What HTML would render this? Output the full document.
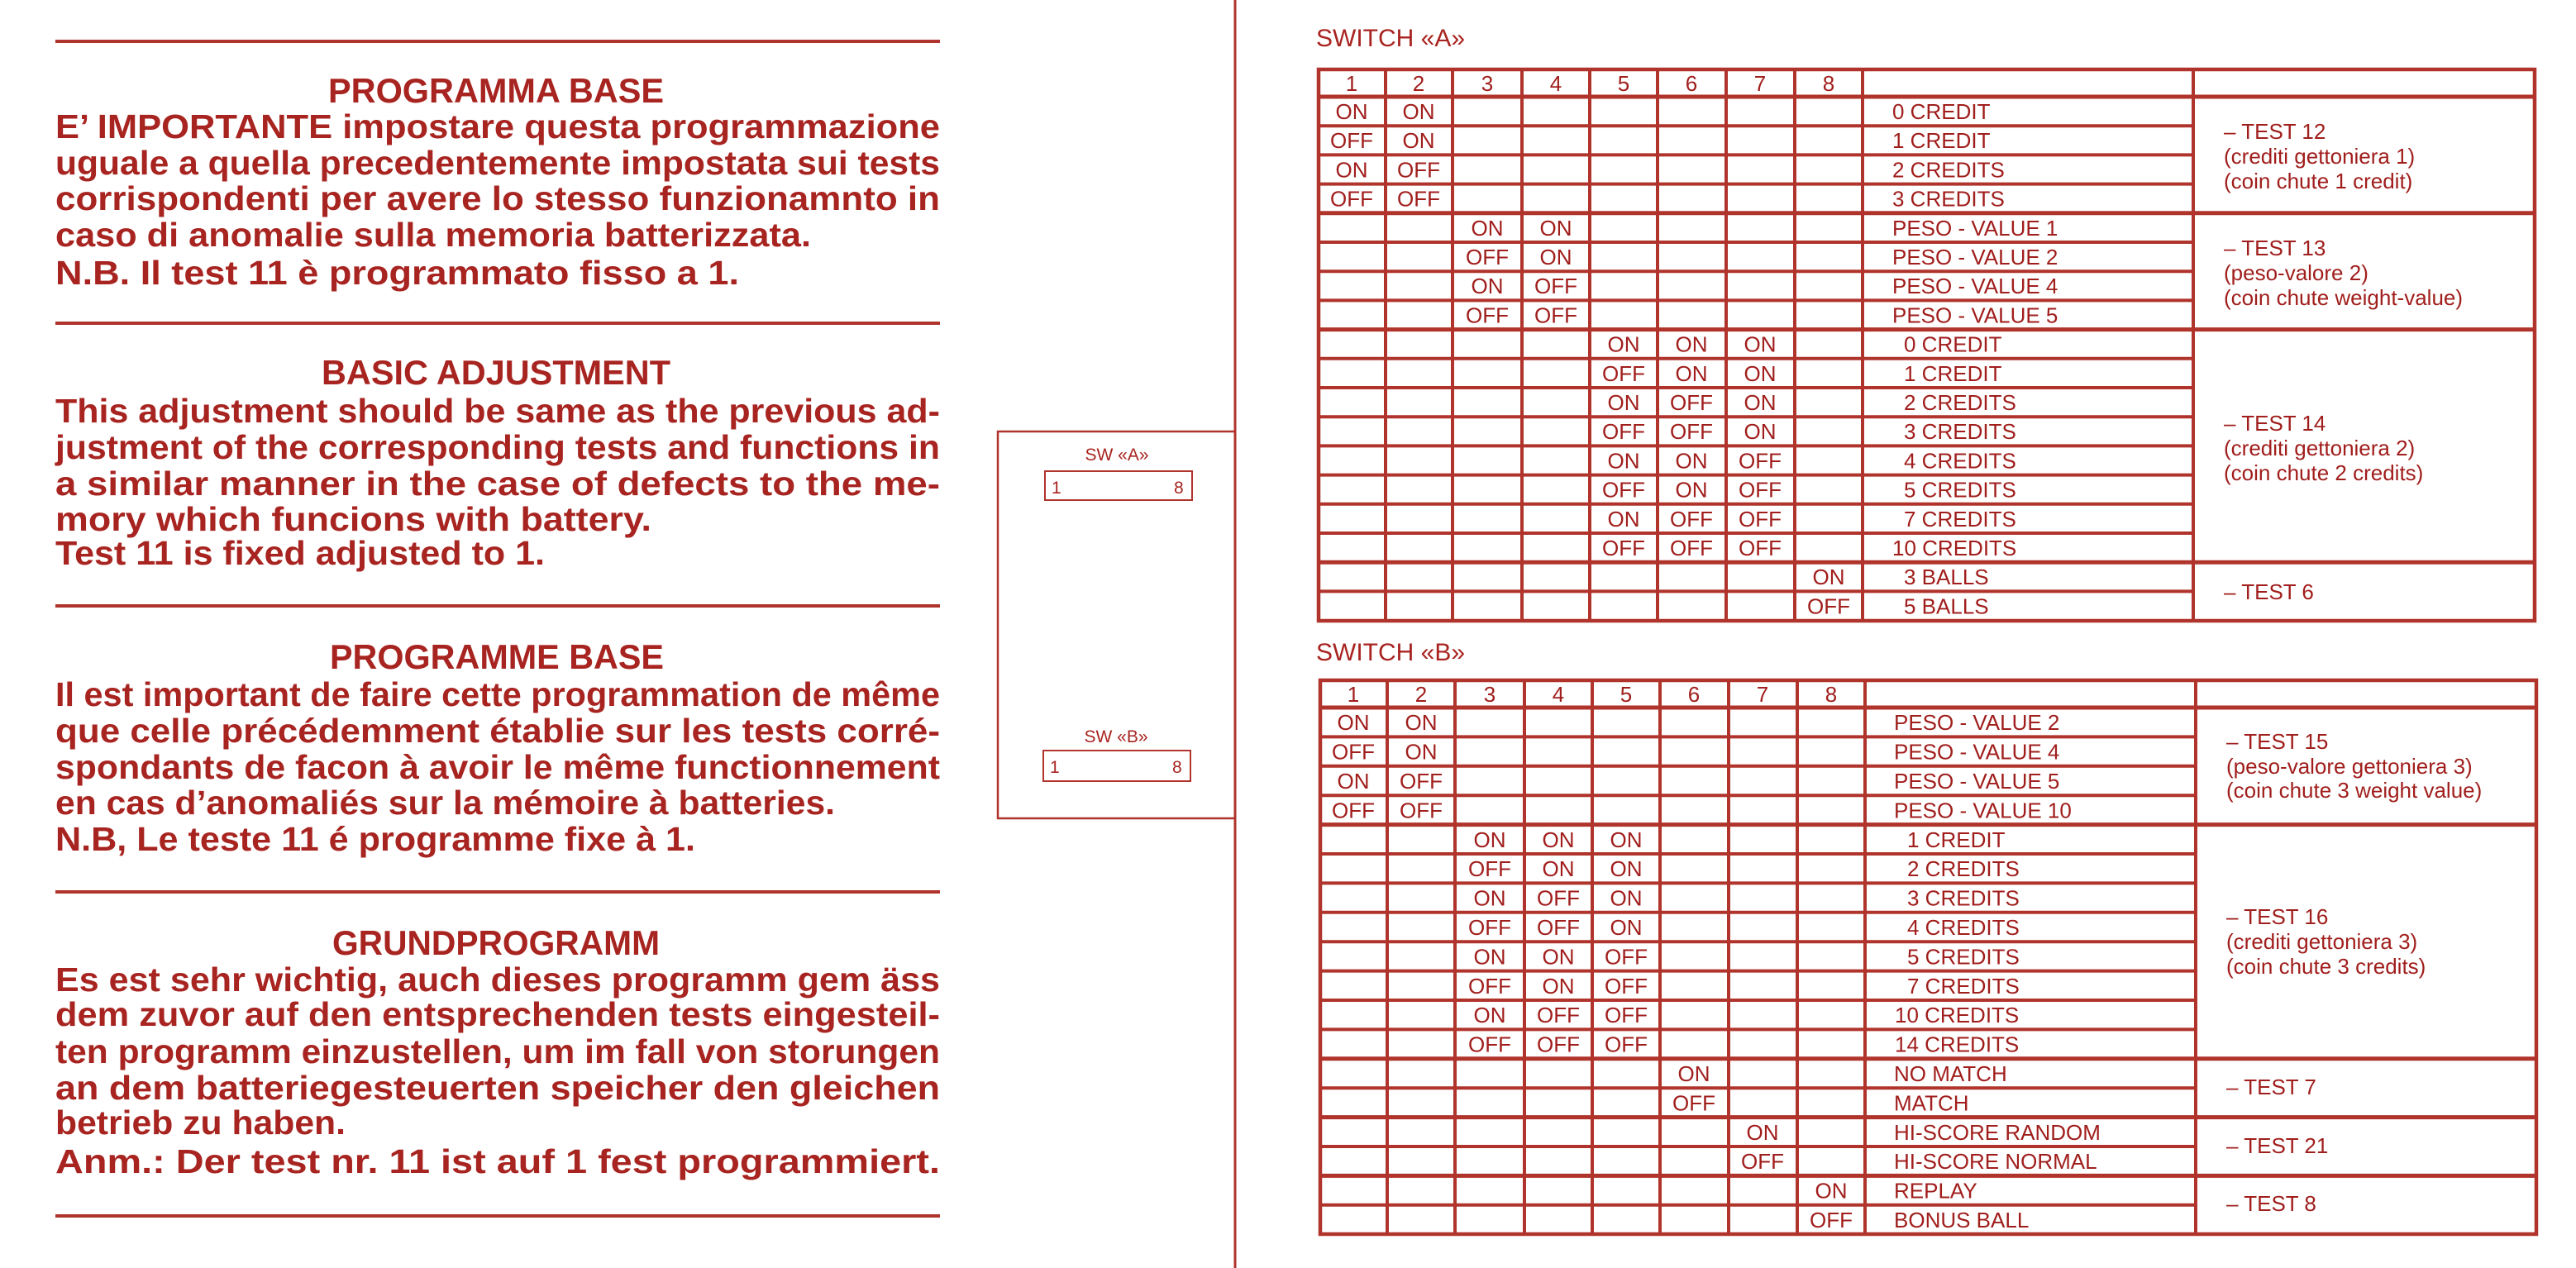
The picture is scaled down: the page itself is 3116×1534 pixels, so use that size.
<!DOCTYPE html>
<html><head><meta charset="utf-8"><style>
html,body{margin:0;padding:0;background:#fff;}
svg{display:block;}
</style></head><body>
<svg xmlns="http://www.w3.org/2000/svg" width="3116" height="1534" viewBox="0 0 3116 1534">
<rect width="3116" height="1534" fill="#fff"/>
<g stroke="#b0342c" stroke-width="4">
<line x1="67" y1="50" x2="1137" y2="50"/>
<line x1="67" y1="391" x2="1137" y2="391"/>
<line x1="67" y1="733" x2="1137" y2="733"/>
<line x1="67" y1="1079" x2="1137" y2="1079"/>
<line x1="67" y1="1471" x2="1137" y2="1471"/>
</g>
<g fill="#a82420" font-family="Liberation Sans, sans-serif" font-weight="bold" font-size="41">
<text x="397" y="124" font-size="42" textLength="406" lengthAdjust="spacingAndGlyphs">PROGRAMMA  BASE</text>
<text x="67" y="167" textLength="1070" lengthAdjust="spacingAndGlyphs">E’ IMPORTANTE impostare questa programmazione</text>
<text x="67" y="211" textLength="1070" lengthAdjust="spacingAndGlyphs">uguale a quella precedentemente impostata sui tests</text>
<text x="67" y="254" textLength="1070" lengthAdjust="spacingAndGlyphs">corrispondenti per avere lo stesso funzionamnto in</text>
<text x="67" y="298" textLength="914" lengthAdjust="spacingAndGlyphs">caso di anomalie sulla memoria batterizzata.</text>
<text x="67" y="344" textLength="827" lengthAdjust="spacingAndGlyphs">N.B. Il test 11 è programmato fisso a 1.</text>

<text x="389" y="465" font-size="42" textLength="422" lengthAdjust="spacingAndGlyphs">BASIC  ADJUSTMENT</text>
<text x="67" y="511" textLength="1070" lengthAdjust="spacingAndGlyphs">This adjustment should be same as the previous ad-</text>
<text x="67" y="555" textLength="1070" lengthAdjust="spacingAndGlyphs">justment of the corresponding tests and functions in</text>
<text x="67" y="599" textLength="1070" lengthAdjust="spacingAndGlyphs">a similar manner in the case of defects to the me-</text>
<text x="67" y="642" textLength="721" lengthAdjust="spacingAndGlyphs">mory which funcions with battery.</text>
<text x="67" y="683" textLength="592" lengthAdjust="spacingAndGlyphs">Test 11 is fixed adjusted to 1.</text>

<text x="399" y="809" font-size="42" textLength="404" lengthAdjust="spacingAndGlyphs">PROGRAMME  BASE</text>
<text x="67" y="854" textLength="1070" lengthAdjust="spacingAndGlyphs">Il est important de faire cette programmation de même</text>
<text x="67" y="898" textLength="1070" lengthAdjust="spacingAndGlyphs">que celle précédemment établie sur les tests corré-</text>
<text x="67" y="942" textLength="1070" lengthAdjust="spacingAndGlyphs">spondants de facon à avoir le même functionnement</text>
<text x="67" y="985" textLength="943" lengthAdjust="spacingAndGlyphs">en cas d’anomaliés sur la mémoire à batteries.</text>
<text x="67" y="1029" textLength="774" lengthAdjust="spacingAndGlyphs">N.B, Le teste 11 é programme fixe à 1.</text>

<text x="402" y="1155" font-size="42" textLength="396" lengthAdjust="spacingAndGlyphs">GRUNDPROGRAMM</text>
<text x="67" y="1199" textLength="1070" lengthAdjust="spacingAndGlyphs">Es est sehr wichtig, auch dieses programm gem äss</text>
<text x="67" y="1241" textLength="1070" lengthAdjust="spacingAndGlyphs">dem zuvor auf den entsprechenden tests eingesteil-</text>
<text x="67" y="1286" textLength="1070" lengthAdjust="spacingAndGlyphs">ten programm einzustellen, um im fall von storungen</text>
<text x="67" y="1330" textLength="1070" lengthAdjust="spacingAndGlyphs">an dem batteriegesteuerten speicher den gleichen</text>
<text x="67" y="1372" textLength="351" lengthAdjust="spacingAndGlyphs">betrieb zu haben.</text>
<text x="67" y="1419" textLength="1070" lengthAdjust="spacingAndGlyphs">Anm.: Der test nr. 11 ist auf 1 fest programmiert.</text>
</g>
<line x1="1494" y1="0" x2="1494" y2="1534" stroke="#b0342c" stroke-width="3"/>
<rect x="1207" y="522" width="287" height="468" fill="none" stroke="#b0342c" stroke-width="2.5"/>
<g fill="none" stroke="#b0342c" stroke-width="2">
<rect x="1264" y="570" width="178" height="35"/>
<rect x="1262" y="908" width="178" height="37"/>
</g>
<g fill="#a82420" font-family="Liberation Sans, sans-serif" font-size="21">
<text x="1351" y="557" text-anchor="middle">SW «A»</text>
<text x="1272" y="597">1</text><text x="1420" y="597">8</text>
<text x="1350" y="898" text-anchor="middle">SW «B»</text>
<text x="1270" y="935">1</text><text x="1418" y="935">8</text>
</g>
<g fill="#a82420" font-family="Liberation Sans, sans-serif" font-size="30">
<text x="1592" y="56">SWITCH «A»</text>
<text x="1592" y="799">SWITCH «B»</text>
</g>
<g stroke="#b0342c" stroke-width="4" fill="none">
<rect x="1595" y="84" width="1471" height="667" stroke-width="4.5"/>
<line x1="1595" y1="117" x2="3066" y2="117" stroke-width="5"/>
<g>
<line x1="1595" y1="152.2" x2="2653" y2="152.2"/><line x1="1595" y1="187.4" x2="2653" y2="187.4"/><line x1="1595" y1="222.6" x2="2653" y2="222.6"/>
<line x1="1595" y1="293" x2="2653" y2="293"/><line x1="1595" y1="328.2" x2="2653" y2="328.2"/><line x1="1595" y1="363.4" x2="2653" y2="363.4"/>
<line x1="1595" y1="433.8" x2="2653" y2="433.8"/><line x1="1595" y1="469" x2="2653" y2="469"/><line x1="1595" y1="504.2" x2="2653" y2="504.2"/><line x1="1595" y1="539.4" x2="2653" y2="539.4"/><line x1="1595" y1="574.6" x2="2653" y2="574.6"/><line x1="1595" y1="609.8" x2="2653" y2="609.8"/><line x1="1595" y1="645" x2="2653" y2="645"/>
<line x1="1595" y1="715.4" x2="2653" y2="715.4"/>
</g>
<g stroke-width="5">
<line x1="1595" y1="257.8" x2="3066" y2="257.8"/><line x1="1595" y1="398.6" x2="3066" y2="398.6"/><line x1="1595" y1="680.2" x2="3066" y2="680.2"/>
</g>
<g>
<line x1="1676" y1="84" x2="1676" y2="751"/><line x1="1757" y1="84" x2="1757" y2="751"/><line x1="1841" y1="84" x2="1841" y2="751"/><line x1="1923" y1="84" x2="1923" y2="751"/><line x1="2005" y1="84" x2="2005" y2="751"/><line x1="2088" y1="84" x2="2088" y2="751"/><line x1="2171" y1="84" x2="2171" y2="751"/><line x1="2253" y1="84" x2="2253" y2="751"/><line x1="2653" y1="84" x2="2653" y2="751"/>
</g>
</g>
<g stroke="#b0342c" stroke-width="4" fill="none">
<rect x="1597" y="823" width="1471" height="670" stroke-width="4.5"/>
<line x1="1597" y1="856" x2="3068" y2="856" stroke-width="5"/>
<g>
<line x1="1597" y1="891.4" x2="2656" y2="891.4"/><line x1="1597" y1="926.8" x2="2656" y2="926.8"/><line x1="1597" y1="962.2" x2="2656" y2="962.2"/>
<line x1="1597" y1="1033" x2="2656" y2="1033"/><line x1="1597" y1="1068.4" x2="2656" y2="1068.4"/><line x1="1597" y1="1103.8" x2="2656" y2="1103.8"/><line x1="1597" y1="1139.2" x2="2656" y2="1139.2"/><line x1="1597" y1="1174.6" x2="2656" y2="1174.6"/><line x1="1597" y1="1210" x2="2656" y2="1210"/><line x1="1597" y1="1245.4" x2="2656" y2="1245.4"/>
<line x1="1597" y1="1316.2" x2="2656" y2="1316.2"/><line x1="1597" y1="1387" x2="2656" y2="1387"/><line x1="1597" y1="1457.8" x2="2656" y2="1457.8"/>
</g>
<g stroke-width="5">
<line x1="1597" y1="997.6" x2="3068" y2="997.6"/><line x1="1597" y1="1280.8" x2="3068" y2="1280.8"/><line x1="1597" y1="1351.6" x2="3068" y2="1351.6"/><line x1="1597" y1="1422.4" x2="3068" y2="1422.4"/>
</g>
<g>
<line x1="1678" y1="823" x2="1678" y2="1493"/><line x1="1760" y1="823" x2="1760" y2="1493"/><line x1="1844" y1="823" x2="1844" y2="1493"/><line x1="1926" y1="823" x2="1926" y2="1493"/><line x1="2008" y1="823" x2="2008" y2="1493"/><line x1="2091" y1="823" x2="2091" y2="1493"/><line x1="2174" y1="823" x2="2174" y2="1493"/><line x1="2256" y1="823" x2="2256" y2="1493"/><line x1="2656" y1="823" x2="2656" y2="1493"/>
</g>
</g>
<g fill="#a01e1c" font-family="Liberation Sans, sans-serif" font-size="26" text-anchor="middle">
<text x="1635" y="110">1</text><text x="1716" y="110">2</text><text x="1799" y="110">3</text><text x="1882" y="110">4</text><text x="1964" y="110">5</text><text x="2046" y="110">6</text><text x="2129" y="110">7</text><text x="2212" y="110">8</text>
<text x="1635" y="144">ON</text><text x="1716" y="144">ON</text>
<text x="1635" y="179">OFF</text><text x="1716" y="179">ON</text>
<text x="1635" y="214.5">ON</text><text x="1716" y="214.5">OFF</text>
<text x="1635" y="249.5">OFF</text><text x="1716" y="249.5">OFF</text>
<text x="1799" y="285">ON</text><text x="1882" y="285">ON</text>
<text x="1799" y="320">OFF</text><text x="1882" y="320">ON</text>
<text x="1799" y="355">ON</text><text x="1882" y="355">OFF</text>
<text x="1799" y="390.5">OFF</text><text x="1882" y="390.5">OFF</text>
<text x="1964" y="425.5">ON</text><text x="2046" y="425.5">ON</text><text x="2129" y="425.5">ON</text>
<text x="1964" y="461">OFF</text><text x="2046" y="461">ON</text><text x="2129" y="461">ON</text>
<text x="1964" y="496">ON</text><text x="2046" y="496">OFF</text><text x="2129" y="496">ON</text>
<text x="1964" y="531">OFF</text><text x="2046" y="531">OFF</text><text x="2129" y="531">ON</text>
<text x="1964" y="566.5">ON</text><text x="2046" y="566.5">ON</text><text x="2129" y="566.5">OFF</text>
<text x="1964" y="601.5">OFF</text><text x="2046" y="601.5">ON</text><text x="2129" y="601.5">OFF</text>
<text x="1964" y="637">ON</text><text x="2046" y="637">OFF</text><text x="2129" y="637">OFF</text>
<text x="1964" y="672">OFF</text><text x="2046" y="672">OFF</text><text x="2129" y="672">OFF</text>
<text x="2212" y="707">ON</text>
<text x="2212" y="742.5">OFF</text>
</g>
<g fill="#a01e1c" font-family="Liberation Sans, sans-serif" font-size="26">
<text x="2289" y="144">0 CREDIT</text>
<text x="2289" y="179">1 CREDIT</text>
<text x="2289" y="214.5">2 CREDITS</text>
<text x="2289" y="249.5">3 CREDITS</text>
<text x="2289" y="285">PESO - VALUE 1</text>
<text x="2289" y="320">PESO - VALUE 2</text>
<text x="2289" y="355">PESO - VALUE 4</text>
<text x="2289" y="390.5">PESO - VALUE 5</text>
<text x="2303" y="425.5">0 CREDIT</text>
<text x="2303" y="461">1 CREDIT</text>
<text x="2303" y="496">2 CREDITS</text>
<text x="2303" y="531">3 CREDITS</text>
<text x="2303" y="566.5">4 CREDITS</text>
<text x="2303" y="601.5">5 CREDITS</text>
<text x="2303" y="637">7 CREDITS</text>
<text x="2289" y="672">10 CREDITS</text>
<text x="2303" y="707">3 BALLS</text>
<text x="2303" y="742.5">5 BALLS</text>
<text x="2690" y="168">– TEST 12</text>
<text x="2690" y="198">(crediti gettoniera 1)</text>
<text x="2690" y="228">(coin chute 1 credit)</text>
<text x="2690" y="309">– TEST 13</text>
<text x="2690" y="339">(peso-valore 2)</text>
<text x="2690" y="369">(coin chute weight-value)</text>
<text x="2690" y="521">– TEST 14</text>
<text x="2690" y="551">(crediti gettoniera 2)</text>
<text x="2690" y="581">(coin chute 2 credits)</text>
<text x="2690" y="725">– TEST 6</text>
</g>
<g fill="#a01e1c" font-family="Liberation Sans, sans-serif" font-size="26" text-anchor="middle">
<text x="1637" y="849">1</text><text x="1719" y="849">2</text><text x="1802" y="849">3</text><text x="1885" y="849">4</text><text x="1967" y="849">5</text><text x="2049" y="849">6</text><text x="2132" y="849">7</text><text x="2215" y="849">8</text>
<text x="1637" y="883">ON</text><text x="1719" y="883">ON</text>
<text x="1637" y="918.5">OFF</text><text x="1719" y="918.5">ON</text>
<text x="1637" y="954">ON</text><text x="1719" y="954">OFF</text>
<text x="1637" y="989.5">OFF</text><text x="1719" y="989.5">OFF</text>
<text x="1802" y="1025">ON</text><text x="1885" y="1025">ON</text><text x="1967" y="1025">ON</text>
<text x="1802" y="1060">OFF</text><text x="1885" y="1060">ON</text><text x="1967" y="1060">ON</text>
<text x="1802" y="1095.5">ON</text><text x="1885" y="1095.5">OFF</text><text x="1967" y="1095.5">ON</text>
<text x="1802" y="1131">OFF</text><text x="1885" y="1131">OFF</text><text x="1967" y="1131">ON</text>
<text x="1802" y="1166.5">ON</text><text x="1885" y="1166.5">ON</text><text x="1967" y="1166.5">OFF</text>
<text x="1802" y="1202">OFF</text><text x="1885" y="1202">ON</text><text x="1967" y="1202">OFF</text>
<text x="1802" y="1237">ON</text><text x="1885" y="1237">OFF</text><text x="1967" y="1237">OFF</text>
<text x="1802" y="1272.5">OFF</text><text x="1885" y="1272.5">OFF</text><text x="1967" y="1272.5">OFF</text>
<text x="2049" y="1308">ON</text>
<text x="2049" y="1343.5">OFF</text>
<text x="2132" y="1379">ON</text>
<text x="2132" y="1414">OFF</text>
<text x="2215" y="1449.5">ON</text>
<text x="2215" y="1485">OFF</text>
</g>
<g fill="#a01e1c" font-family="Liberation Sans, sans-serif" font-size="26">
<text x="2291" y="883">PESO - VALUE 2</text>
<text x="2291" y="918.5">PESO - VALUE 4</text>
<text x="2291" y="954">PESO - VALUE 5</text>
<text x="2291" y="989.5">PESO - VALUE 10</text>
<text x="2307" y="1025">1 CREDIT</text>
<text x="2307" y="1060">2 CREDITS</text>
<text x="2307" y="1095.5">3 CREDITS</text>
<text x="2307" y="1131">4 CREDITS</text>
<text x="2307" y="1166.5">5 CREDITS</text>
<text x="2307" y="1202">7 CREDITS</text>
<text x="2292" y="1237">10 CREDITS</text>
<text x="2292" y="1272.5">14 CREDITS</text>
<text x="2291" y="1308">NO MATCH</text>
<text x="2291" y="1343.5">MATCH</text>
<text x="2291" y="1379">HI-SCORE RANDOM</text>
<text x="2291" y="1414">HI-SCORE NORMAL</text>
<text x="2291" y="1449.5">REPLAY</text>
<text x="2291" y="1485">BONUS BALL</text>
<text x="2693" y="906">– TEST 15</text>
<text x="2693" y="936">(peso-valore gettoniera 3)</text>
<text x="2693" y="965">(coin chute 3 weight value)</text>
<text x="2693" y="1118">– TEST 16</text>
<text x="2693" y="1148">(crediti gettoniera 3)</text>
<text x="2693" y="1178">(coin chute 3 credits)</text>
<text x="2693" y="1324">– TEST 7</text>
<text x="2693" y="1395">– TEST 21</text>
<text x="2693" y="1465">– TEST 8</text>
</g>
</svg>
</body></html>
